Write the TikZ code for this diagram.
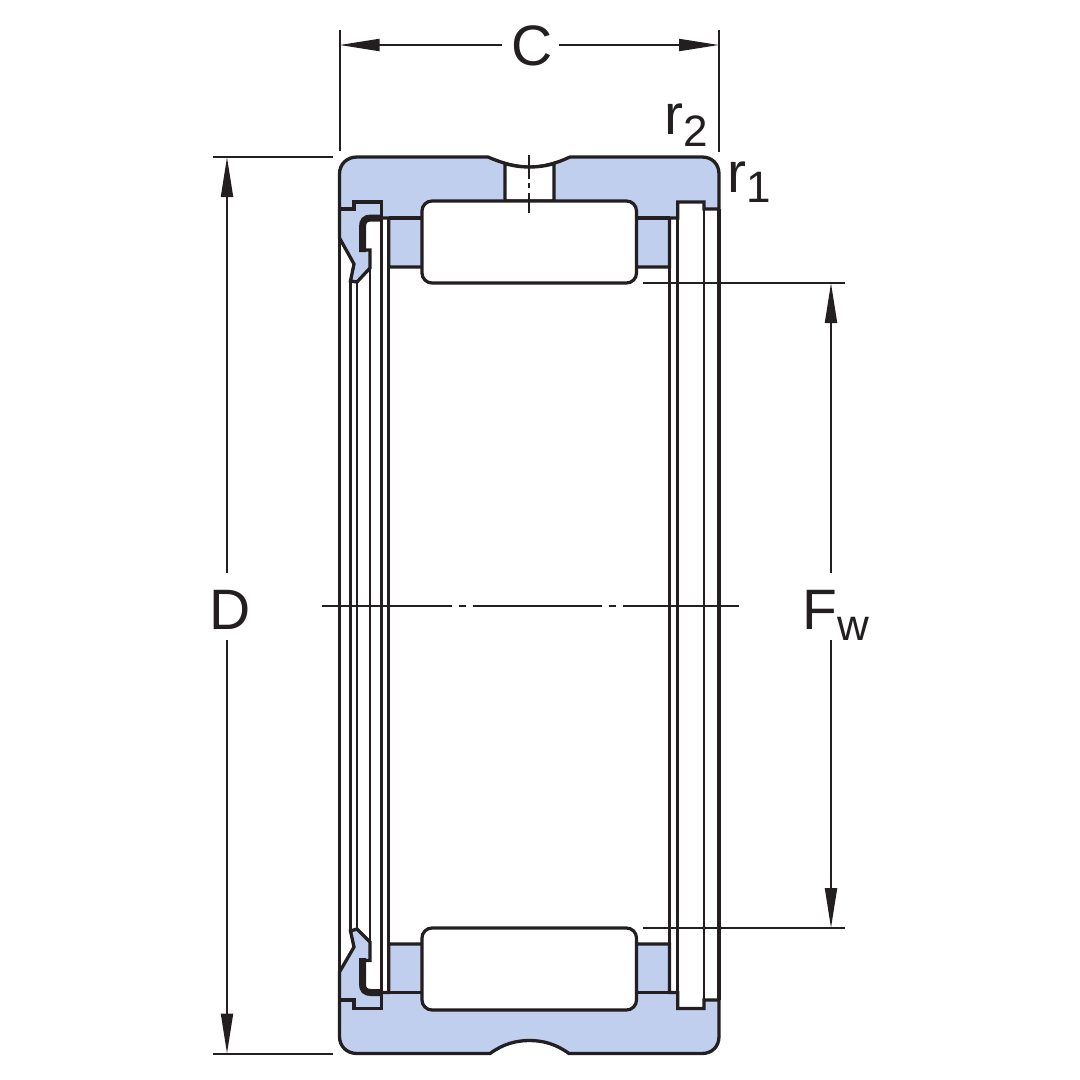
\documentclass[tikz,border=0pt]{standalone}
\usepackage{fontspec}
\setmainfont{Liberation Sans}
\usepackage{tikz}
\usetikzlibrary{arrows.meta, calc}
\definecolor{ink}{RGB}{35,31,32}
\definecolor{steelblue}{RGB}{191,207,237}
\newcommand{\bigfont}{\fontsize{57}{57}\selectfont}
\newcommand{\lowfont}{\fontsize{44}{44}\selectfont}
\tikzset{%
  x=1pt, y=-1pt,
  body/.style={draw=ink, line width=3.3pt, line join=miter},
  thin part/.style={draw=ink, line width=2.8pt},
  seal edge/.style={draw=ink, line width=7pt},
  roller/.style={draw=ink, fill=white, line width=3.2pt, rounded corners=10pt,
    minimum width=214.5pt, minimum height=82pt, inner sep=0pt},
  dimline/.style={draw=ink, line width=2pt, >={Triangle[length=40pt, width=12pt]}},
  extline/.style={draw=ink, line width=2pt},
  dimlabel/.style={text=ink, font=\bigfont, inner sep=0pt, outer sep=0pt,
    minimum height=67pt, text height=45pt, text depth=0pt}
}

\begin{document}
\begin{tikzpicture}
    \useasboundingbox (0,0) rectangle (1080,1080);

    % upper ring with seal
    \path[body, fill=steelblue] (339.5,238) -- (339.5,174) .. controls (339.5,164) and (347,157) .. (357,157) -- (488,157)
      .. controls (503,163.5) and (516,167) .. (529.5,167)
      .. controls (543,167) and (556,163.5) .. (570,157)
      -- (702,157) .. controls (712,157) and (719,164) .. (719,174) -- (719,209) -- (704,209) -- (704,202) -- (677.7,202)
      -- (677.7,218) -- (669.5,218) -- (669.5,267) -- (388.7,267) -- (388.7,218) -- (381.5,218)
      -- (370,218) .. controls (365,218) and (362.5,221) .. (362.5,227) -- (362.5,250) -- (370,250) -- (370,268)
      -- (357,282) -- (350.5,281) -- (354,264) -- cycle;
    % lower ring with seal
    \path[body, fill=steelblue] (339.5,972) -- (339.5,1036.5) .. controls (339.5,1046.5) and (347,1053.5) .. (357,1053.5) -- (490,1053.5)
      .. controls (503,1044) and (516,1040.5) .. (529.5,1040.5)
      .. controls (543,1040.5) and (556,1044) .. (569,1053.5)
      -- (702,1053.5) .. controls (712,1053.5) and (719,1046.5) .. (719,1036.5) -- (719,1000) -- (704,1000) -- (704,1008.5) -- (677.7,1008.5)
      -- (677.7,992.5) -- (669.5,992.5) -- (669.5,944) -- (388.7,944) -- (388.7,992.5) -- (381.5,992.5)
      -- (370,992.5) .. controls (365,992.5) and (362.5,989.5) .. (362.5,984) -- (362.5,960.5) -- (370,960.5) -- (370,942)
      -- (357,929) -- (350.5,931) -- (354,947) -- cycle;

    % steps and seal lips
    \draw[body] (339.5,209) -- (354,209) -- (354,202) -- (381.5,202) -- (381.5,218);
    \draw[body] (339.5,1000) -- (354,1000) -- (354,1008.5) -- (381.5,1008.5) -- (381.5,992.5);
    \draw[seal edge] (362.5,252) -- (362.5,227) .. controls (362.5,221) and (365,218) .. (371,218) -- (382,218);
    \draw[seal edge] (362.5,958) -- (362.5,984) .. controls (362.5,989.5) and (365,992.5) .. (371,992.5) -- (382,992.5);

    % long vertical lines
    \draw[body] (339.5,238) -- (339.5,972);
    \draw[body] (719,209) -- (719,1000);
    \foreach \x/\ya/\yb in {350.5/281/931, 357/282/929, 370/268/942, 381.5/218/992.5,
        388.7/218/992.5, 669.5/218/992.5, 677.7/202/1008.5, 704/202/1008.5} {
      \draw[thin part] (\x,\ya) -- (\x,\yb);
    }
    \draw[body] (388.7,218) -- (669.5,218);
    \draw[body] (388.7,992.5) -- (669.5,992.5);

    % oil hole
    \path[body, fill=white] (505,163.5) .. controls (513,166) and (521,167) .. (529.5,167)
      .. controls (538,167) and (546,166) .. (554,163.5) -- (554,201) -- (505,201) -- cycle;

    \node[roller] (rollerTop) at (529.25,242) {};
    \node[roller] (rollerBottom) at (529.25,969) {};

    \coordinate (holeTop) at (529,155);
    \coordinate (holeBottom) at (529,213);
    \draw[extline, dash pattern=on 24pt off 3.5pt on 5pt off 5pt on 30pt off 10pt] (holeTop) -- (holeBottom);

    % centre line
    \coordinate (axisLeft) at (322,605.7);
    \coordinate (axisRight) at (739,605.7);
    \draw[extline, dash pattern=on 129.5pt off 7pt on 7pt off 7pt] (axisLeft) -- (axisRight);

    % dimension C
    \coordinate (cLeft) at (339.5,45);
    \coordinate (cRight) at (719,45);
    \node[dimlabel, minimum width=57pt, minimum height=40pt, text height=40pt] (lblC) at (530.5,45) {\hspace{3pt}C};
    \draw[dimline, <-] (cLeft) -- (lblC.west);
    \draw[dimline, <-] (cRight) -- (lblC.east);
    \coordinate (cLeftA) at (339.5,30);
    \coordinate (cLeftB) at (339.5,151);
    \coordinate (cRightA) at (719,30);
    \coordinate (cRightB) at (719,152);
    \draw[extline] (cLeftA) -- (cLeftB);
    \draw[extline] (cRightA) -- (cRightB);

    % dimension D
    \coordinate (dTop) at (227,157);
    \coordinate (dBottom) at (227,1053.5);
    \node[dimlabel] (lblD) at (230,606.5) {D};
    \draw[dimline, <-] (dTop) -- (dTop |- lblD.north);
    \draw[dimline, <-] (dBottom) -- (dBottom |- lblD.south);
    \coordinate (dTopA) at (213,157);
    \coordinate (dTopB) at (333,157);
    \coordinate (dBottomA) at (213,1053.5);
    \coordinate (dBottomB) at (333,1053.5);
    \draw[extline] (dTopA) -- (dTopB);
    \draw[extline] (dBottomA) -- (dBottomB);

    % dimension Fw
    \coordinate (fTop) at (831,283);
    \coordinate (fBottom) at (831,928);
    \node[dimlabel] (lblF) at (835.5,606.5) {F\smash{\raisebox{-11pt}{\lowfont w}}};
    \draw[dimline, <-] (fTop) -- (fTop |- lblF.north);
    \draw[dimline, <-] (fBottom) -- (fBottom |- lblF.south);
    \coordinate (fTopA) at (643,283);
    \coordinate (fTopB) at (845,283);
    \coordinate (fBottomA) at (643,928);
    \coordinate (fBottomB) at (845,928);
    \draw[extline] (fTopA) -- (fTopB);
    \draw[extline] (fBottomA) -- (fBottomB);

    % radii
    \node[text=ink, font=\bigfont, inner sep=0pt, anchor=base west] (lblRtwo) at (664,134) {r\raisebox{-12pt}{\lowfont 2}};
    \node[text=ink, font=\bigfont, inner sep=0pt, anchor=base west] (lblRone) at (727,192) {r\raisebox{-10pt}{\lowfont 1}};
\end{tikzpicture}
\end{document}
